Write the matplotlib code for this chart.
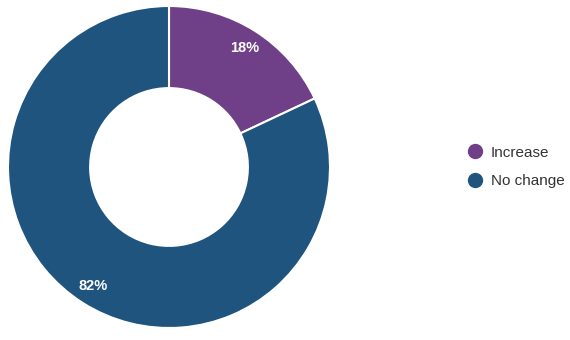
import matplotlib
matplotlib.use("Agg")
import matplotlib.pyplot as plt
from matplotlib.lines import Line2D

categories = ["Increase", "No change"]
values = [18, 82]
colors = ["#6f3f87", "#1f547f"]

fig = plt.figure(figsize=(5.7, 3.4), dpi=100)
ax = fig.add_axes([8/570, 12/340, 322/570, 322/340])
wedges, texts, autotexts = ax.pie(
    values, colors=colors, startangle=90, counterclock=False,
    radius=1.0, autopct=lambda p: f"{p:.0f}%", pctdistance=0.875,
    wedgeprops=dict(width=0.51, edgecolor="white", linewidth=1.5),
    textprops=dict(color="white", fontsize=10.5, fontweight="bold",
                   family="Liberation Sans"))
ax.set_xlim(-1, 1)
ax.set_ylim(-1, 1)
ax.set_aspect("equal")
ax.axis("off")

handles = [Line2D([0], [0], marker="o", linestyle="", markersize=10,
                  markerfacecolor=c, markeredgecolor=c) for c in colors]
fig.legend(handles, categories, loc="center left",
           bbox_to_anchor=(452/570, 1 - 167/340), frameon=False,
           handletextpad=0.45, labelspacing=0.95, handlelength=1.2,
           prop=dict(family="Liberation Sans", size=11),
           labelcolor="#333333")

fig.savefig("out.png", dpi=100, facecolor="white")
